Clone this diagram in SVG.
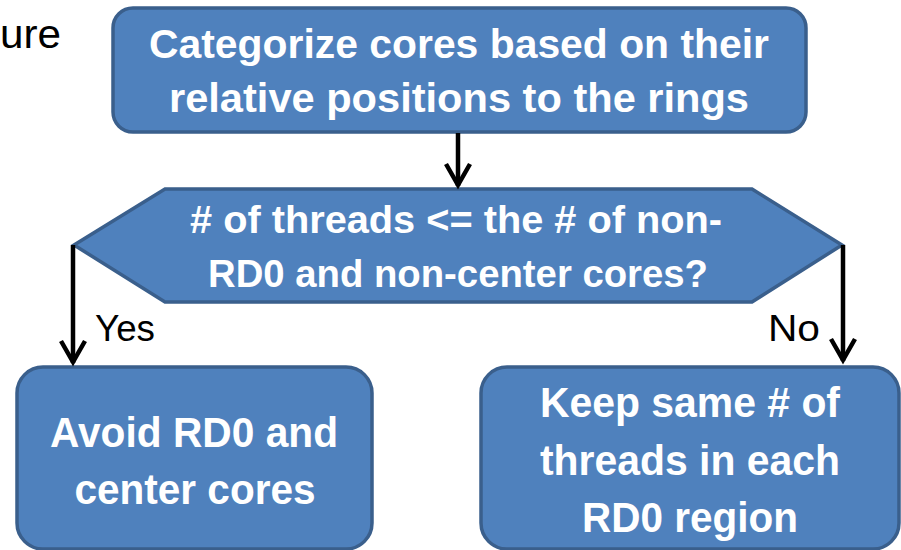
<svg xmlns="http://www.w3.org/2000/svg" width="901" height="550" viewBox="0 0 901 550">
<defs>
<style>
.shape{fill:#4F81BD;stroke:#3A5F8C;stroke-width:3.5}
.lbl{font-family:"Liberation Sans",Arial,sans-serif;font-weight:bold;fill:#fff;text-anchor:middle}
.plain{font-family:"Liberation Sans",Arial,sans-serif;fill:#000}
.conn{fill:none;stroke:#000;stroke-width:4.5}
.head{fill:none;stroke:#000;stroke-width:4.5;stroke-linejoin:miter}
</style>
</defs>
<rect width="901" height="550" fill="#fff"/>
<text class="plain" x="0" y="48" font-size="40" textLength="61" lengthAdjust="spacingAndGlyphs">ure</text>
<g id="categorize">
<rect class="shape" x="113" y="8" width="693" height="124" rx="20"/>
<text class="lbl" x="459" y="58" font-size="40" textLength="620" lengthAdjust="spacingAndGlyphs">Categorize cores based on their</text>
<text class="lbl" x="459" y="112" font-size="40" textLength="580" lengthAdjust="spacingAndGlyphs">relative positions to the rings</text>
</g>
<g id="decision">
<polygon class="shape" points="74,245 165,189 752,189 842,245 752,302 165,302"/>
<text class="lbl" x="456" y="233" font-size="38" textLength="532" lengthAdjust="spacingAndGlyphs"># of threads &lt;= the # of non-</text>
<text class="lbl" x="458" y="287" font-size="38" textLength="500" lengthAdjust="spacingAndGlyphs">RD0 and non-center cores?</text>
</g>
<g id="avoid">
<rect class="shape" x="17" y="367" width="355" height="182" rx="26"/>
<text class="lbl" x="194" y="447" font-size="42" textLength="288" lengthAdjust="spacingAndGlyphs">Avoid RD0 and</text>
<text class="lbl" x="195" y="504" font-size="42" textLength="241" lengthAdjust="spacingAndGlyphs">center cores</text>
</g>
<g id="keep">
<rect class="shape" x="481" y="367" width="418" height="182" rx="26"/>
<text class="lbl" x="690" y="417" font-size="42" textLength="300" lengthAdjust="spacingAndGlyphs">Keep same # of</text>
<text class="lbl" x="690" y="475" font-size="42" textLength="300" lengthAdjust="spacingAndGlyphs">threads in each</text>
<text class="lbl" x="690" y="532" font-size="42" textLength="216" lengthAdjust="spacingAndGlyphs">RD0 region</text>
</g>
<g id="connectors">
<path class="conn" d="M458,133 V186"/>
<path class="head" d="M446,164 L458,185 L470,164"/>
<path class="conn" d="M73,245 V363"/>
<path class="head" d="M61,341 L73,362 L85,341"/>
<path class="conn" d="M843,245 V361"/>
<path class="head" d="M831,339 L843,360 L855,339"/>
<text class="plain" x="95" y="341" font-size="36" textLength="60" lengthAdjust="spacingAndGlyphs">Yes</text>
<text class="plain" x="768" y="341" font-size="36" textLength="52" lengthAdjust="spacingAndGlyphs">No</text>
</g>
</svg>
